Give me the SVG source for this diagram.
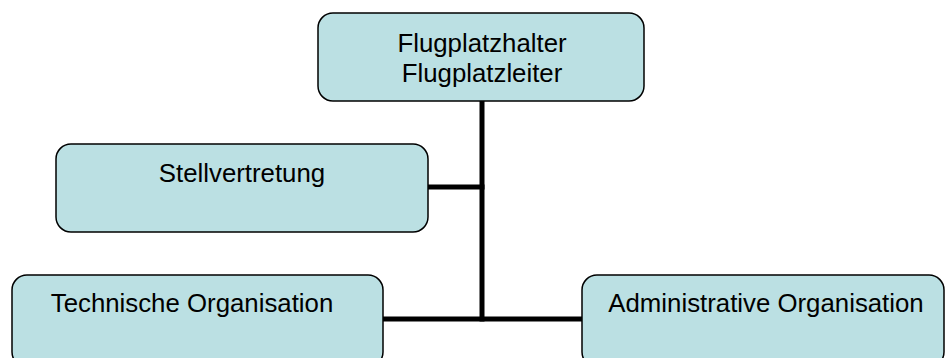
<svg xmlns="http://www.w3.org/2000/svg" width="946" height="358" viewBox="0 0 946 358">
<style>
.box{fill:#BBE0E3;stroke:#000;stroke-width:1.5}
.lbl{font-family:"Liberation Sans",Arial,sans-serif;font-size:25.8px;fill:#000;text-anchor:middle}
.conn{stroke:#000;stroke-width:5;fill:none}
</style>
<rect width="946" height="358" fill="#fff"/>
<g id="connectors">
<line class="conn" x1="482" y1="101" x2="482" y2="321.5"/>
<line class="conn" x1="428" y1="187" x2="484.5" y2="187"/>
<line class="conn" x1="383" y1="319" x2="582" y2="319"/>
</g>
<g id="n-flugplatzhalter">
<rect class="box" x="318" y="13" width="326" height="88" rx="15"/>
<text class="lbl" x="482" y="52">Flugplatzhalter</text>
<text class="lbl" x="482" y="82">Flugplatzleiter</text>
</g>
<g id="n-stellvertretung">
<rect class="box" x="56" y="144" width="372" height="88" rx="15"/>
<text class="lbl" x="242" y="182">Stellvertretung</text>
</g>
<g id="n-technische">
<rect class="box" x="12" y="275" width="371" height="92" rx="15"/>
<text class="lbl" x="192" y="312">Technische Organisation</text>
</g>
<g id="n-administrative">
<rect class="box" x="582" y="275" width="362" height="92" rx="15"/>
<text class="lbl" x="766" y="312">Administrative Organisation</text>
</g>
</svg>
